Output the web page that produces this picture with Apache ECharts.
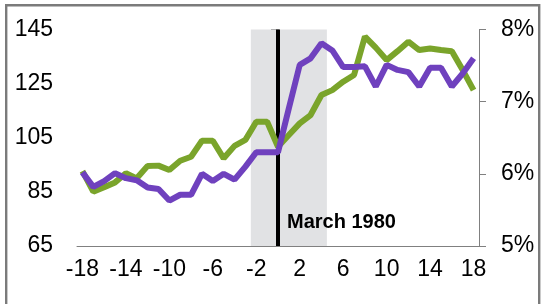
<!DOCTYPE html>
<html>
<head>
<meta charset="utf-8">
<script src="https://cdn.jsdelivr.net/npm/echarts@6/dist/echarts.min.js"></script>
<style>
  html, body { margin: 0; padding: 0; background: #fff; }
  #chart { width: 544px; height: 304px; }
</style>
</head>
<body>
<div id="chart"></div>
<script>
// months relative to March 1980
const months = ['-18','-17','-16','-15','-14','-13','-12','-11','-10','-9','-8','-7','-6','-5','-4','-3','-2','-1',
  '0','1','2','3','4','5','6','7','8','9','10','11','12','13','14','15','16','17','18'];

// left axis series (green)
const greenValues = [92.7, 85.1, 86.7, 88.5, 91.9, 90, 94.6, 94.7, 93.1, 96.5, 98, 103.9, 103.9, 97.4, 102, 104.2,
  110.9, 110.9, 101.7, 106, 110.3, 113.4, 120.8, 122.6, 125.7, 128.2, 142.4, 138.3, 133.7, 137, 140.5,
  137.4, 138, 137.4, 137, 130, 122.6];

// right axis series (purple, percent)
const purpleValues = [6.02, 5.82, 5.90, 6.01, 5.94, 5.91, 5.81, 5.79, 5.63, 5.71, 5.71, 6.0, 5.90, 6.0, 5.92, 6.1,
  6.3, 6.3, 6.3, 6.91, 7.51, 7.60, 7.81, 7.71, 7.48, 7.48, 7.49, 7.21, 7.51, 7.44, 7.41,
  7.21, 7.47, 7.47, 7.21, 7.39, 7.60];

// shaded period and event marker
const shadeRange = [-2.5, 4.5];
const eventMonth = 0;
const eventLabel = 'March 1980';

const font = '"Liberation Sans", Arial, sans-serif';
const axisGray = '#808080';

const chart = echarts.init(document.getElementById('chart'));

chart.setOption({
  animation: false,
  grid: { left: 77, right: 65, top: 29.5, bottom: 58 },
  xAxis: [
    {
      type: 'category',
      data: months,
      boundaryGap: true,
      z: 3,
      axisLine: { lineStyle: { color: axisGray, width: 1 } },
      axisTick: { interval: 1, length: 7, lineStyle: { color: axisGray } },
      axisLabel: { interval: 3, fontSize: 23, fontFamily: font, color: '#000', margin: 12 },
      splitLine: { show: false }
    },
    {
      type: 'value',
      min: -18.5,
      max: 18.5,
      show: false
    }
  ],
  yAxis: [
    {
      type: 'value',
      position: 'left',
      min: 65, max: 145, interval: 20,
      axisLine: { show: true, lineStyle: { color: axisGray } },
      axisTick: { show: true, length: 7, lineStyle: { color: axisGray } },
      axisLabel: { fontSize: 23, fontFamily: font, color: '#000', margin: 24 },
      splitLine: { show: false }
    },
    {
      type: 'value',
      position: 'right',
      min: 5, max: 8, interval: 1,
      axisLine: { show: true, lineStyle: { color: axisGray } },
      axisTick: { show: true, length: 7, lineStyle: { color: axisGray } },
      axisLabel: { fontSize: 23, fontFamily: font, color: '#000', margin: 22, formatter: '{value}%' },
      splitLine: { show: false }
    }
  ],
  series: [
    {
      // helper for shaded band and vertical line
      type: 'line',
      xAxisIndex: 1,
      yAxisIndex: 0,
      data: [],
      silent: true,
      markArea: {
        silent: true,
        z: 1,
        itemStyle: { color: '#e1e2e4' },
        data: [[{ xAxis: shadeRange[0] }, { xAxis: shadeRange[1] }]]
      },
      markLine: {
        silent: true,
        z: 1.5,
        symbol: 'none',
        label: { show: false },
        lineStyle: { color: '#000', width: 4, type: 'solid' },
        data: [{ xAxis: eventMonth }]
      }
    },
    {
      type: 'line',
      yAxisIndex: 0,
      data: greenValues,
      showSymbol: false,
      z: 2,
      lineStyle: { color: '#7aa42b', width: 6 }
    },
    {
      type: 'line',
      yAxisIndex: 1,
      data: purpleValues,
      showSymbol: false,
      z: 2,
      lineStyle: { color: '#6f41be', width: 6 }
    }
  ],
  graphic: [
    {
      type: 'rect',
      shape: { x: 6.2, y: 5.3, width: 533, height: 310 },
      style: { fill: 'none', stroke: '#7b7b7b', lineWidth: 2.4 },
      silent: true
    },
    {
      type: 'text',
      x: 287,
      y: 222,
      z: 10,
      style: {
        text: eventLabel,
        font: 'bold 20px ' + font,
        fill: '#000',
        verticalAlign: 'middle'
      },
      silent: true
    }
  ]
});
</script>
</body>
</html>
